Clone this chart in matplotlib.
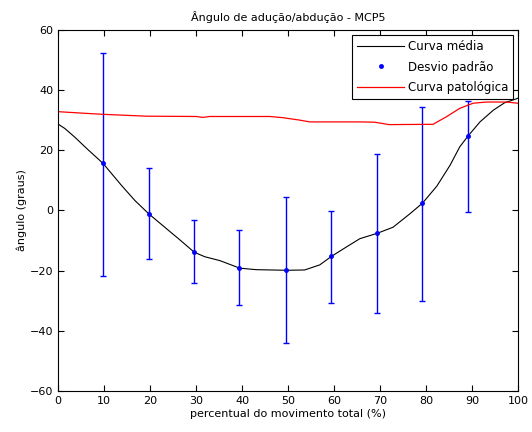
import matplotlib

matplotlib.use("Agg")
import matplotlib.pyplot as plt
from matplotlib.lines import Line2D

# curva media (traced)
media_x = [0, 1.5, 3.6, 6.5, 9.8, 13.8, 16.7, 19.7, 23.2, 26.8, 29.6, 31.9, 35.2,
           39.5, 43.1, 49.6, 53.6, 56.9, 59.4, 62.0, 65.6, 69.4, 72.8, 76.5,
           79.2, 82.3, 85.2, 87.3, 89.1, 91.7, 94.6, 97.1, 99.3, 100]
media_y = [28.7, 27.2, 24.4, 20.2, 15.6, 8.3, 3.3, -1.1, -5.6, -10.2, -13.9, -15.4,
           -16.7, -19.2, -19.7, -19.9, -19.8, -18.1, -15.3, -12.8, -9.4, -7.6,
           -5.6, -1.1, 2.4, 8.0, 15.0, 21.1, 24.7, 29.4, 33.3, 35.8, 36.9, 37.3]

# curva patologica
pat_x = [0, 6.5, 10, 19.2, 30, 31.5, 33, 46, 48.9, 52.5, 54.7, 65.6, 68.8, 72.0,
         81.5, 84.4, 87.3, 90.2, 93.1, 97.5, 100]
pat_y = [32.8, 32.2, 31.9, 31.3, 31.2, 30.9, 31.2, 31.2, 30.8, 30.0, 29.4, 29.4,
         29.3, 28.5, 28.6, 31.1, 33.9, 35.6, 36.0, 36.0, 35.6]

# desvio padrao
dp_x = [9.8, 19.7, 29.5, 39.4, 49.5, 59.4, 69.3, 79.2, 89.1]
dp_y = [15.6, -1.1, -13.9, -19.1, -19.9, -15.3, -7.6, 2.4, 24.7]
dp_sup = [52.2, 14.0, -3.3, -6.4, 4.4, -0.1, 18.6, 34.4, 36.5]
dp_inf = [-21.7, -16.3, -24.1, -31.4, -44.2, -30.9, -34.1, -30.1, -0.4]

err_lo = [c - b for c, b in zip(dp_y, dp_inf)]
err_hi = [t - c for c, t in zip(dp_y, dp_sup)]

plt.rcParams["font.family"] = ["DejaVu Sans"]
fig = plt.figure(figsize=(5.32, 4.32), dpi=100)
ax = fig.add_axes([0.109, 0.095, 0.865, 0.836])

ax.plot(media_x, media_y, color="black", linewidth=0.8)
ax.errorbar(dp_x, dp_y, yerr=[err_lo, err_hi], fmt=".", color="blue",
            markersize=5, elinewidth=1.0, capsize=2.5, capthick=1.0)
ax.plot(pat_x, pat_y, color="red", linewidth=0.9)

ax.set_xlim(0, 100)
ax.set_ylim(-60, 60)
ax.set_xticks(range(0, 101, 10))
ax.set_yticks(range(-60, 61, 20))
ax.tick_params(direction="in", top=True, right=True, labelsize=8, length=4)
ax.set_title("Ângulo de adução/abdução - MCP5", fontsize=8)
ax.set_xlabel("percentual do movimento total (%)", fontsize=8, labelpad=2)
ax.set_ylabel("ângulo (graus)", fontsize=8, labelpad=2)

handles = [
    Line2D([], [], color="black", linewidth=0.8),
    Line2D([], [], color="blue", marker=".", markersize=5, linestyle="none"),
    Line2D([], [], color="red", linewidth=0.9),
]
labels = ["Curva média", "Desvio padrão", "Curva patológica"]
leg = ax.legend(handles, labels, loc="upper right", fontsize=8.5, fancybox=False,
                framealpha=1, edgecolor="black", borderaxespad=0.45,
                handlelength=4.0, handletextpad=0.3, labelspacing=0.65,
                borderpad=0.4)
leg.get_frame().set_linewidth(0.8)

fig.savefig("out.png", dpi=100)
